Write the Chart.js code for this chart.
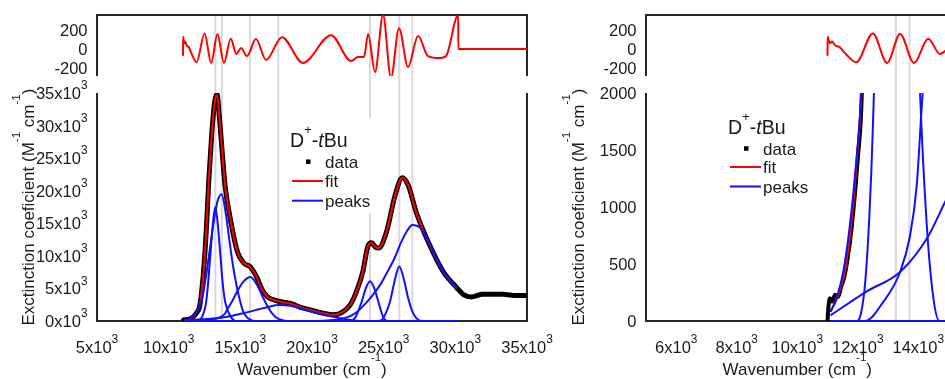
<!DOCTYPE html>
<html>
<head>
<meta charset="utf-8">
<script src="https://cdn.jsdelivr.net/npm/chart.js@4.4.0/dist/chart.umd.min.js"></script>
<style>
html, body { margin: 0; padding: 0; width: 945px; height: 379px; overflow: hidden; background: #fff; }
canvas { position: absolute; }
</style>
</head>
<body>
<canvas id="resL" width="560" height="76" style="left:0px;top:0px"></canvas>
<canvas id="mainL" width="560" height="303" style="left:0px;top:76px"></canvas>
<canvas id="resR" width="420" height="76" style="left:540px;top:0px"></canvas>
<canvas id="mainR" width="420" height="303" style="left:540px;top:76px"></canvas>
<script>
// ---- values (wavenumber in cm-1, extinction in M-1 cm-1) ----
const grayWn = [13260, 13710, 15680, 17650, 24050, 26090, 27000];

const dataWn = [11000, 11030, 11080, 11150, 11250, 11350, 11450, 11550, 11650, 11800, 12000, 12140, 12300, 12480, 12650, 12800, 13000, 13200, 13370, 13550, 13750, 13950, 14300, 14800, 15250, 15700, 16150, 16500, 16900, 17400, 17800, 18500, 19200, 19900, 20700, 21500, 22150, 22700, 23100, 23550, 23900, 24150, 24450, 24650, 25200, 25800, 26300, 26700, 27300, 28200, 29150, 30100, 30600, 31100, 31900, 33300, 34300, 35000];
const dataEps = [0, 120, 200, 170, 230, 210, 300, 380, 520, 820, 1420, 2050, 4500, 8900, 15000, 21600, 28500, 33500, 34800, 31000, 25500, 20500, 15700, 10600, 8900, 8300, 6700, 4900, 3700, 3200, 2950, 2700, 2100, 1700, 1250, 950, 1400, 2600, 4500, 7600, 11500, 12000, 11300, 11200, 13700, 19300, 22000, 20900, 16500, 11700, 7600, 5100, 4000, 3700, 4100, 4100, 3900, 3900];

const fitWn = [11100, 11150, 11250, 11400, 11600, 11800, 12000, 12140, 12300, 12480, 12650, 12800, 13000, 13200, 13370, 13550, 13750, 13950, 14300, 14800, 15250, 15700, 16150, 16500, 16900, 17400, 17800, 18500, 19200, 19900, 20700, 21500, 22150, 22700, 23100, 23550, 23900, 24150, 24450, 24650, 25200, 25800, 26300, 26700, 27300, 28200, 29150, 30100];
const fitEps = [80, 110, 160, 260, 470, 880, 1520, 2150, 4500, 8900, 15000, 21600, 28500, 33500, 34700, 31000, 25500, 20500, 15700, 10600, 8900, 8300, 6700, 4900, 3700, 3200, 2950, 2700, 2100, 1700, 1250, 950, 1400, 2600, 4500, 7600, 11500, 12000, 11300, 11200, 13700, 19300, 22000, 20900, 16500, 11700, 7600, 5050];

const resWn = [11000, 11005, 11080, 11150, 11250, 11400, 11600, 11950, 12500, 12970, 13400, 13860, 14330, 14720, 15050, 15460, 16090, 16790, 17900, 19370, 21330, 22720, 23210, 23630, 23910, 24400, 24955, 25510, 26070, 26700, 27400, 28090, 28930, 29350, 30200, 30210, 35000];
const resVal = [-70, 130, 60, 80, 40, 20, -50, -140, 165, -147, 160, -147, 110, -53, 10, -74, 105, -116, 126, -147, 147, -126, -84, -84, 158, -242, 360, -305, 221, -189, 137, -74, -95, -74, 360, 0, 0];

const p1Wn = [11100, 11950, 12100, 12250, 12380, 12500, 12620, 12760, 12920, 13090, 13250, 13420, 13600, 13760, 13920, 14060, 14280, 14500, 14700, 30100];
const p1Eps = [0, 0, 60, 350, 900, 1700, 3000, 6000, 10500, 15000, 17500, 15000, 10300, 6000, 3200, 2000, 850, 200, 0, 0];
const p2Wn = [11100, 11300, 11520, 11740, 11960, 12140, 12400, 12650, 12900, 13150, 13400, 13700, 13950, 14280, 14500, 14750, 15000, 15200, 15450, 15700, 16000, 30100];
const p2Eps = [80, 200, 430, 840, 1430, 2100, 4200, 7500, 11500, 15300, 18300, 19450, 17000, 11700, 8300, 5300, 2900, 1450, 600, 200, 0, 0];
const p3Wn = [11100, 12240, 12850, 13400, 13730, 13950, 14120, 14450, 14800, 15200, 15700, 16150, 16500, 16850, 17200, 17550, 18000, 18400, 30100];
const p3Eps = [0, 0, 170, 430, 750, 1190, 1900, 3100, 4600, 6000, 6750, 5600, 4000, 2450, 1200, 460, 100, 0, 0];
const p4Wn = [11100, 12300, 13400, 14300, 14900, 15600, 16300, 17000, 17650, 18500, 19200, 19900, 20700, 21500, 22100, 22700, 23300, 30100];
const p4Eps = [50, 260, 430, 730, 1050, 1400, 1800, 2200, 2450, 2350, 1950, 1450, 1000, 650, 380, 150, 0, 0];
const p5Wn = [11100, 22600, 23000, 23470, 23750, 24050, 24350, 24630, 24850, 25100, 25400, 30100];
const p5Eps = [0, 0, 460, 2960, 5000, 6100, 5000, 2960, 1300, 150, 0, 0];
const p6Wn = [11100, 24600, 24860, 25150, 25440, 25800, 26090, 26400, 26720, 27050, 27420, 27700, 30100];
const p6Eps = [0, 0, 150, 1200, 2960, 6500, 8350, 6500, 3400, 1200, 150, 0, 0];
const p7Wn = [11100, 20000, 20800, 21500, 22100, 22700, 23200, 23700, 24250, 24800, 25250, 25750, 26200, 26650, 27000, 27500, 27800, 28200, 28700, 29150, 29600, 30100];
const p7Eps = [0, 0, 50, 150, 350, 800, 1500, 2600, 4000, 5700, 7500, 9600, 12000, 13900, 14750, 14400, 13600, 11800, 9500, 7600, 6200, 5050];

const xTicksL = [5000, 10000, 15000, 20000, 25000, 30000, 35000];
const yTicksL = [0, 5000, 10000, 15000, 20000, 25000, 30000, 35000];
const xTicksR = [6000, 8000, 10000, 12000, 14000];
const yTicksR = [0, 500, 1000, 1500, 2000];
const resTicks = [-200, 0, 200];

const peaks = [[p1Wn, p1Eps], [p2Wn, p2Eps], [p3Wn, p3Eps], [p4Wn, p4Eps], [p5Wn, p5Eps], [p6Wn, p6Eps], [p7Wn, p7Eps]];

// ---- styling ----
const FONT = "'Liberation Sans', Arial, sans-serif";
const TXT = '#1a1a1a';
const AXIS = '#262626';
const GRAY = '#d9d9d9';
const RED = '#ff0000';
const BLUE = '#1010ff';

function pts(xs, ys) { return xs.map((x, i) => ({ x: x, y: ys[i] })); }

function fontOf(kind, size, sup) {
  if (kind === 'sup') return (size * sup.scale).toFixed(1) + 'px ' + FONT;
  if (kind === 'it') return 'italic ' + size + 'px ' + FONT;
  return size + 'px ' + FONT;
}

// draws text made of parts: [text, ''|'sup'|'it']
function rich(ctx, parts, x, y, size, align, sup) {
  sup = sup || { scale: 0.72, raise: 0.6 };
  const w = parts.map(p => { ctx.font = fontOf(p[1], size, sup); return ctx.measureText(p[0]).width; });
  const total = w.reduce((a, b) => a + b, 0);
  let cx = align === 'center' ? x - total / 2 : (align === 'right' ? x - total : x);
  ctx.fillStyle = TXT;
  ctx.textAlign = 'left';
  ctx.textBaseline = 'alphabetic';
  parts.forEach((p, i) => {
    ctx.font = fontOf(p[1], size, sup);
    ctx.fillText(p[0], cx, p[1] === 'sup' ? y - size * sup.raise : y);
    cx += w[i];
  });
}

const kLabel = v => [[(v / 1000) + 'x10', ''], ['3', 'sup']];
const plainLabel = v => [[String(v), '']];
const titleSup = { scale: 0.68, raise: 0.8 };

function drawGray(chart, xMin, xMax, y0, y1) {
  const ctx = chart.ctx, x = chart.scales.x;
  ctx.save();
  ctx.strokeStyle = GRAY;
  ctx.lineWidth = 2;
  grayWn.forEach(w => {
    if (w < xMin || w > xMax) return;
    const px = x.getPixelForValue(w);
    ctx.beginPath(); ctx.moveTo(px, y0); ctx.lineTo(px, y1); ctx.stroke();
  });
  ctx.restore();
}

function makeRes(id, p) {
  new Chart(document.getElementById(id), {
    type: 'line',
    data: { datasets: [{ data: pts(resWn, resVal), borderColor: RED, borderWidth: 2 }] },
    options: {
      animation: false, responsive: false, events: [],
      layout: { padding: { left: p.left, right: p.right, top: 15, bottom: 0 } },
      elements: { point: { radius: 0 }, line: { cubicInterpolationMode: 'monotone', fill: false } },
      scales: {
        x: { type: 'linear', display: false, min: p.xMin, max: p.xMax },
        y: { type: 'linear', display: false, min: -285, max: 360 }
      },
      plugins: { legend: { display: false }, tooltip: { enabled: false } }
    },
    plugins: [{
      id: 'resDeco',
      beforeDatasetsDraw(chart) {
        const a = chart.chartArea, ctx = chart.ctx;
        drawGray(chart, p.xMin, p.xMax, a.top, chart.height);
        ctx.save();
        ctx.strokeStyle = AXIS; ctx.lineWidth = 2;
        ctx.beginPath();
        ctx.moveTo(a.left, a.bottom); ctx.lineTo(a.left, a.top);
        ctx.lineTo(a.right, a.top); ctx.lineTo(a.right, a.bottom);
        ctx.stroke();
        ctx.restore();
      },
      afterDatasetsDraw(chart) {
        const ctx = chart.ctx, y = chart.scales.y, a = chart.chartArea;
        resTicks.forEach(v => rich(ctx, plainLabel(v), a.left - 9.5, y.getPixelForValue(v) + 6, 16.5, 'right'));
      }
    }]
  });
}

function makeMain(id, p) {
  const sets = peaks.map(pk => ({ data: pts(pk[0], pk[1]), borderColor: BLUE, borderWidth: 2 }));
  sets.push({ data: pts(fitWn, fitEps), borderColor: RED, borderWidth: 2 });
  sets.push({ data: pts(dataWn, dataEps), borderColor: '#000', borderWidth: p.dataWidth });
  new Chart(document.getElementById(id), {
    type: 'line',
    data: { datasets: sets },
    options: {
      animation: false, responsive: false, events: [],
      layout: { padding: { left: p.left, right: p.right, top: 17, bottom: 58 } },
      elements: { point: { radius: 0 }, line: { cubicInterpolationMode: 'monotone', fill: false } },
      scales: {
        x: { type: 'linear', display: false, min: p.xMin, max: p.xMax },
        y: { type: 'linear', display: false, min: 0, max: p.yMax }
      },
      plugins: { legend: { display: false }, tooltip: { enabled: false } }
    },
    plugins: [{
      id: 'mainDeco',
      beforeDatasetsDraw(chart) {
        const a = chart.chartArea, ctx = chart.ctx;
        drawGray(chart, p.xMin, p.xMax, 0, a.bottom);
        ctx.save();
        if (p.box) { ctx.fillStyle = '#fff'; ctx.fillRect(p.box[0], p.box[1], p.box[2], p.box[3]); }
        ctx.strokeStyle = AXIS; ctx.lineWidth = 2;
        ctx.beginPath();
        ctx.moveTo(a.left, a.top); ctx.lineTo(a.left, a.bottom);
        ctx.lineTo(a.right, a.bottom); ctx.lineTo(a.right, a.top);
        ctx.stroke();
        ctx.restore();
      },
      afterDatasetsDraw(chart) {
        const ctx = chart.ctx, a = chart.chartArea, x = chart.scales.x, y = chart.scales.y;
        ctx.save();
        p.xTicks.forEach(v => rich(ctx, p.xLabel(v), x.getPixelForValue(v), a.bottom + 32, 16.5, 'center'));
        p.yTicks.forEach(v => rich(ctx, p.yLabel(v), a.left - 9.5, y.getPixelForValue(v) + 6, 16.5, 'right'));
        // axis titles
        rich(ctx, [['Wavenumber (cm', ''], ['-1', 'sup'], [')', '']], (a.left + a.right) / 2, 299, 17, 'center', titleSup);
        ctx.save();
        ctx.translate(p.yTitleX, (a.top + a.bottom) / 2);
        ctx.rotate(-Math.PI / 2);
        rich(ctx, [['Exctinction coeficient (M', ''], ['-1', 'sup'], [' cm', ''], ['-1', 'sup'], [')', '']], 0, 0, 17, 'center', titleSup);
        ctx.restore();
        // legend
        const L = p.legend;
        rich(ctx, [['D', ''], ['+', 'sup'], ['-', ''], ['t', 'it'], ['Bu', '']], L.x, L.titleY, 19.5, 'left', { scale: 0.68, raise: 0.66 });
        ctx.fillStyle = '#000';
        ctx.fillRect(L.x + 16, L.dataY - 2.25, 4.5, 4.5);
        ctx.lineWidth = 2;
        ctx.strokeStyle = RED;
        ctx.beginPath(); ctx.moveTo(L.x + 2, L.fitY); ctx.lineTo(L.x + 33, L.fitY); ctx.stroke();
        ctx.strokeStyle = BLUE;
        ctx.beginPath(); ctx.moveTo(L.x + 2, L.peaksY); ctx.lineTo(L.x + 33, L.peaksY); ctx.stroke();
        rich(ctx, [['data', '']], L.x + 35, L.dataY + 6, 17, 'left');
        rich(ctx, [['fit', '']], L.x + 35, L.fitY + 6, 17, 'left');
        rich(ctx, [['peaks', '']], L.x + 35, L.peaksY + 6, 17, 'left');
        ctx.restore();
      }
    }]
  });
}

makeRes('resL', { left: 97, right: 33, xMin: 5000, xMax: 35000 });
makeRes('resR', { left: 106, right: 11.5, xMin: 5000, xMax: 15000 });

makeMain('mainL', {
  left: 97, right: 33, xMin: 5000, xMax: 35000, yMax: 35000,
  xTicks: xTicksL, yTicks: yTicksL, xLabel: kLabel, yLabel: kLabel,
  dataWidth: 5, yTitleX: 33.5,
  box: [280, 42, 94, 95],
  legend: { x: 290, titleY: 70.7, dataY: 85.7, fitY: 105, peaksY: 124.7 }
});
makeMain('mainR', {
  left: 106, right: 11.5, xMin: 5000, xMax: 15000, yMax: 2000,
  xTicks: xTicksR, yTicks: yTicksR, xLabel: kLabel, yLabel: plainLabel,
  dataWidth: 4, yTitleX: 43.5,
  box: null,
  legend: { x: 188, titleY: 57.5, dataY: 72.5, fitY: 91, peaksY: 110.5 }
});
</script>
</body>
</html>
